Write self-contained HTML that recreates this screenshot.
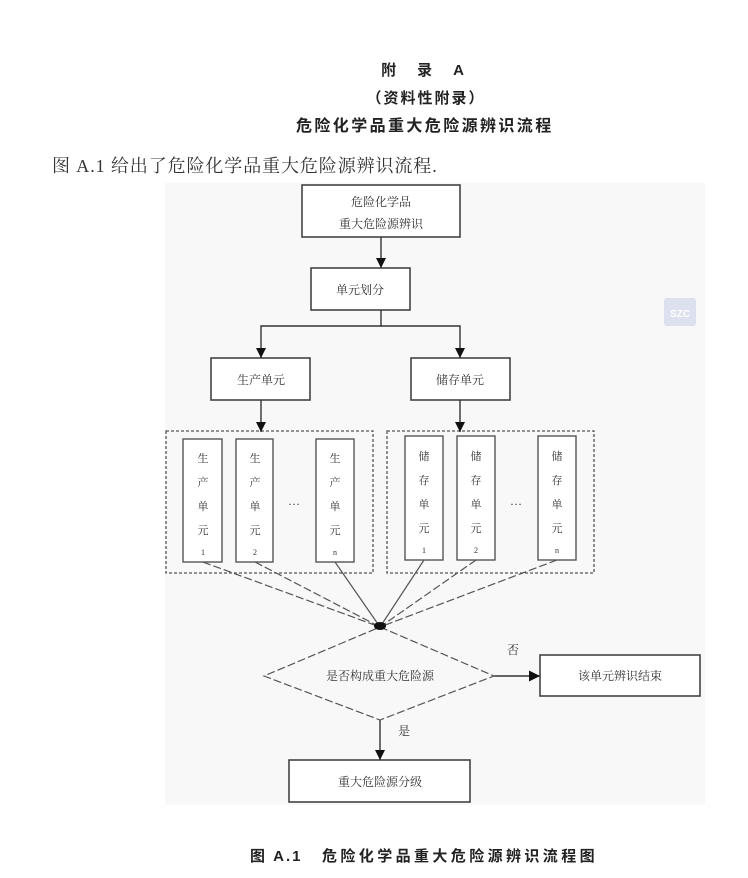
<!DOCTYPE html>
<html><head><meta charset="utf-8"><style>
html,body{margin:0;padding:0;background:#fff;width:748px;height:878px;overflow:hidden}
svg{display:block}
.h{font-family:"Liberation Sans","Noto Sans CJK SC",sans-serif;font-weight:bold;fill:#222}
.t{font-family:"Liberation Serif","Noto Serif CJK SC",serif;fill:#333}
</style></head><body>
<svg width="748" height="878" viewBox="0 0 748 878" xmlns="http://www.w3.org/2000/svg">
<defs><marker id="a" viewBox="0 0 10 10" refX="10" refY="5" markerWidth="10" markerHeight="10" orient="auto" markerUnits="userSpaceOnUse"><path d="M0,0L10,5L0,10z" fill="#111"/></marker>
<marker id="b" viewBox="0 0 10 10" refX="10" refY="5" markerWidth="11" markerHeight="11" orient="auto" markerUnits="userSpaceOnUse"><path d="M0,0L10,5L0,10z" fill="#111"/></marker></defs>
<rect x="165" y="183" width="540" height="622" fill="#f8f8f8"/>
<rect x="664" y="298" width="32" height="28" rx="3" fill="#dde0ee"/>
<text x="680" y="317" font-size="10" fill="#fff" text-anchor="middle" font-family="Liberation Sans" font-weight="bold">SZC</text>
<text class="h" x="424" y="75" font-size="15" text-anchor="middle" letter-spacing="3">附　录　A</text>
<text class="h" x="426" y="103" font-size="15" text-anchor="middle" letter-spacing="2">（资料性附录）</text>
<text class="h" x="296" y="131" font-size="16" letter-spacing="2.4">危险化学品重大危险源辨识流程</text>
<text class="t" x="52" y="172" font-size="18" letter-spacing="0.9">图 A.1 给出了危险化学品重大危险源辨识流程.</text>
<g fill="#fff" stroke="#444" stroke-width="1.6">
<rect x="302" y="185" width="158" height="52"/>
<rect x="311" y="268" width="99" height="42"/>
<rect x="211" y="358" width="99" height="42"/>
<rect x="411" y="358" width="99" height="42"/>
<rect x="540" y="655" width="160" height="41"/>
<rect x="289" y="760" width="181" height="42"/>
</g>
<g fill="none" stroke="#555" stroke-width="1.3" stroke-dasharray="3,2">
<rect x="166" y="431" width="207" height="142"/>
<rect x="387" y="431" width="207" height="142"/>
</g>
<g fill="#fff" stroke="#555" stroke-width="1.4">
<rect x="183" y="439" width="39" height="123"/><rect x="236" y="439" width="37" height="123"/><rect x="316" y="439" width="38" height="123"/>
<rect x="405" y="436" width="38" height="124"/><rect x="457" y="436" width="38" height="124"/><rect x="538" y="436" width="38" height="124"/>
</g>
<g stroke="#333" stroke-width="1.4" fill="none">
<line x1="381" y1="237" x2="381" y2="268" marker-end="url(#a)"/>
<polyline points="381,310 381,326 261,326 261,358" marker-end="url(#a)"/>
<polyline points="381,326 460,326 460,358" marker-end="url(#a)"/>
<line x1="261" y1="400" x2="261" y2="432" marker-end="url(#a)"/>
<line x1="460" y1="400" x2="460" y2="432" marker-end="url(#a)"/>
<line x1="494" y1="676" x2="540" y2="676" marker-end="url(#b)"/>
<line x1="380" y1="720" x2="380" y2="760" marker-end="url(#a)"/>
</g>
<g stroke="#555" stroke-width="1.2" fill="none" stroke-dasharray="8,3">
<line x1="203" y1="562" x2="380" y2="627"/>
<line x1="255" y1="562" x2="380" y2="627"/>
<line x1="335" y1="562" x2="380" y2="627" stroke-dasharray="none"/>
<line x1="424" y1="560" x2="380" y2="627" stroke-dasharray="none"/>
<line x1="476" y1="560" x2="380" y2="627"/>
<line x1="557" y1="560" x2="380" y2="627"/>
<polygon points="380,627 494,676 380,720 264,676"/>
</g>
<ellipse cx="380" cy="626" rx="6" ry="4" fill="#111"/>
<g class="t" font-size="12" text-anchor="middle">
<text x="381" y="206">危险化学品</text><text x="381" y="228">重大危险源辨识</text>
<text x="360" y="294">单元划分</text>
<text x="261" y="384">生产单元</text><text x="460" y="384">储存单元</text>
<text x="380" y="680">是否构成重大危险源</text>
<text x="620" y="680">该单元辨识结束</text>
<text x="380" y="786">重大危险源分级</text>
<text x="513" y="654">否</text><text x="404" y="735">是</text>
<text x="294" y="505">…</text><text x="516" y="505">…</text>
</g>
<g class="t" font-size="11" text-anchor="middle">
<text x="203" y="462">生</text><text x="203" y="486">产</text><text x="203" y="510">单</text><text x="203" y="534">元</text><text x="203" y="555" font-size="8">1</text>
<text x="255" y="462">生</text><text x="255" y="486">产</text><text x="255" y="510">单</text><text x="255" y="534">元</text><text x="255" y="555" font-size="8">2</text>
<text x="335" y="462">生</text><text x="335" y="486">产</text><text x="335" y="510">单</text><text x="335" y="534">元</text><text x="335" y="555" font-size="8">n</text>
<text x="424" y="460">储</text><text x="424" y="484">存</text><text x="424" y="508">单</text><text x="424" y="532">元</text><text x="424" y="553" font-size="8">1</text>
<text x="476" y="460">储</text><text x="476" y="484">存</text><text x="476" y="508">单</text><text x="476" y="532">元</text><text x="476" y="553" font-size="8">2</text>
<text x="557" y="460">储</text><text x="557" y="484">存</text><text x="557" y="508">单</text><text x="557" y="532">元</text><text x="557" y="553" font-size="8">n</text>
</g>
<text class="h" x="250" y="861" font-size="15" letter-spacing="2">图 A.1</text>
<text class="h" x="322" y="861" font-size="15" letter-spacing="3.4">危险化学品重大危险源辨识流程图</text>
</svg>
</body></html>
